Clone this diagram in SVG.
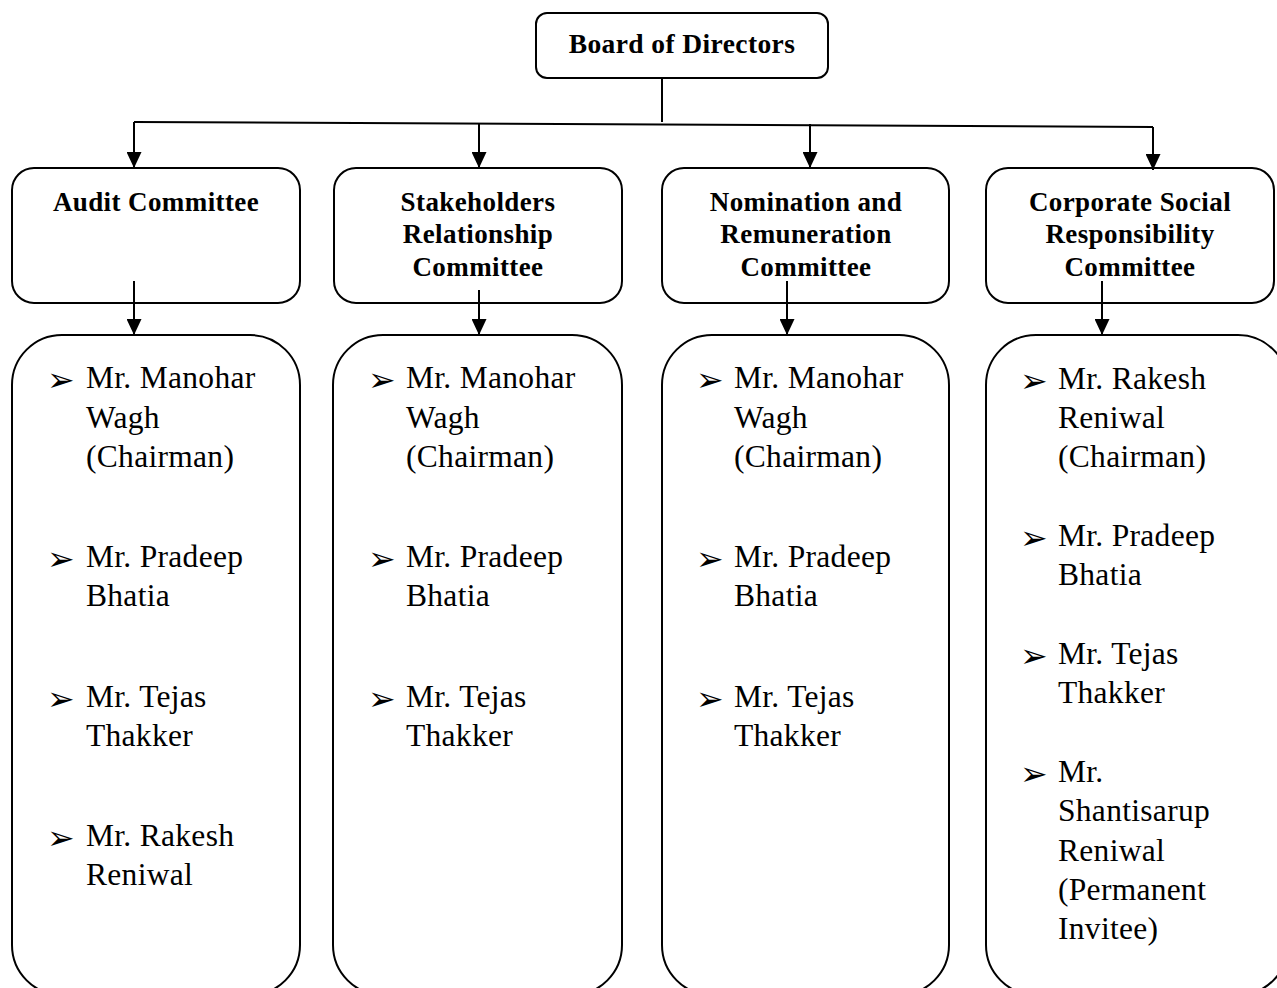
<svg xmlns="http://www.w3.org/2000/svg" width="1277" height="988" viewBox="0 0 1277 988">
<defs>
<marker id="ah" markerWidth="16" markerHeight="15" refX="16" refY="7.5" orient="auto" markerUnits="userSpaceOnUse" viewBox="0 0 16 15">
<path d="M0,0 L16,7.5 L0,15 Z" fill="#000"/>
</marker>
</defs>
<style>
.box{fill:#fff;stroke:#000;stroke-width:2}
.ln{fill:none;stroke:#000;stroke-width:2}
.ar{fill:none;stroke:#000;stroke-width:2;marker-end:url(#ah)}
.t{font-family:"Liberation Serif","Times New Roman",serif;font-weight:bold;font-size:27px;letter-spacing:0.4px;text-anchor:middle;fill:#000}
.m{font-family:"Liberation Serif","Times New Roman",serif;font-size:31.5px;letter-spacing:0.3px;fill:#000}
.b{font-family:"DejaVu Sans",sans-serif;font-size:33px;fill:#000}
</style>
<rect width="1277" height="988" fill="#fff"/>
<g id="board">
<rect class="box" x="536" y="13" width="292" height="65" rx="11"/>
<text class="t" x="682" y="53" style="font-size:27.5px">Board of Directors</text>
</g>
<g id="audit">
<rect class="box" x="12" y="168" width="288" height="135" rx="22"/>
<text class="t" x="156" y="211">Audit Committee</text>
</g>
<g id="stakeholders">
<rect class="box" x="334" y="168" width="288" height="135" rx="22"/>
<text class="t" x="478" y="211">Stakeholders</text>
<text class="t" x="478" y="243">Relationship</text>
<text class="t" x="478" y="276">Committee</text>
</g>
<g id="nomination">
<rect class="box" x="662" y="168" width="287" height="135" rx="22"/>
<text class="t" x="806" y="211">Nomination and</text>
<text class="t" x="806" y="243">Remuneration</text>
<text class="t" x="806" y="276">Committee</text>
</g>
<g id="csr">
<rect class="box" x="986" y="168" width="288" height="135" rx="22"/>
<text class="t" x="1130" y="211">Corporate Social</text>
<text class="t" x="1130" y="243">Responsibility</text>
<text class="t" x="1130" y="276">Committee</text>
</g>
<g id="audit-members">
<rect class="box" x="12" y="335" width="288" height="660" rx="50"/>
<text class="b" x="47" y="391">➢</text>
<text class="m" x="86" y="388">Mr. Manohar</text>
<text class="m" x="86" y="428">Wagh</text>
<text class="m" x="86" y="467">(Chairman)</text>
<text class="b" x="47" y="570">➢</text>
<text class="m" x="86" y="567">Mr. Pradeep</text>
<text class="m" x="86" y="606">Bhatia</text>
<text class="b" x="47" y="710">➢</text>
<text class="m" x="86" y="707">Mr. Tejas</text>
<text class="m" x="86" y="746">Thakker</text>
<text class="b" x="47" y="849">➢</text>
<text class="m" x="86" y="846">Mr. Rakesh</text>
<text class="m" x="86" y="885">Reniwal</text>
</g>
<g id="stakeholders-members">
<rect class="box" x="333" y="335" width="289" height="660" rx="50"/>
<text class="b" x="368" y="391">➢</text>
<text class="m" x="406" y="388">Mr. Manohar</text>
<text class="m" x="406" y="428">Wagh</text>
<text class="m" x="406" y="467">(Chairman)</text>
<text class="b" x="368" y="570">➢</text>
<text class="m" x="406" y="567">Mr. Pradeep</text>
<text class="m" x="406" y="606">Bhatia</text>
<text class="b" x="368" y="710">➢</text>
<text class="m" x="406" y="707">Mr. Tejas</text>
<text class="m" x="406" y="746">Thakker</text>
</g>
<g id="nomination-members">
<rect class="box" x="662" y="335" width="287" height="660" rx="50"/>
<text class="b" x="696" y="391">➢</text>
<text class="m" x="734" y="388">Mr. Manohar</text>
<text class="m" x="734" y="428">Wagh</text>
<text class="m" x="734" y="467">(Chairman)</text>
<text class="b" x="696" y="570">➢</text>
<text class="m" x="734" y="567">Mr. Pradeep</text>
<text class="m" x="734" y="606">Bhatia</text>
<text class="b" x="696" y="710">➢</text>
<text class="m" x="734" y="707">Mr. Tejas</text>
<text class="m" x="734" y="746">Thakker</text>
</g>
<g id="csr-members">
<rect class="box" x="986" y="335" width="302" height="660" rx="50"/>
<text class="b" x="1020" y="392">➢</text>
<text class="m" x="1058" y="389">Mr. Rakesh</text>
<text class="m" x="1058" y="428">Reniwal</text>
<text class="m" x="1058" y="467">(Chairman)</text>
<text class="b" x="1020" y="549">➢</text>
<text class="m" x="1058" y="546">Mr. Pradeep</text>
<text class="m" x="1058" y="585">Bhatia</text>
<text class="b" x="1020" y="667">➢</text>
<text class="m" x="1058" y="664">Mr. Tejas</text>
<text class="m" x="1058" y="703">Thakker</text>
<text class="b" x="1020" y="785">➢</text>
<text class="m" x="1058" y="782">Mr.</text>
<text class="m" x="1058" y="821">Shantisarup</text>
<text class="m" x="1058" y="861">Reniwal</text>
<text class="m" x="1058" y="900">(Permanent</text>
<text class="m" x="1058" y="939">Invitee)</text>
</g>
<g id="connectors">
<path class="ln" d="M662,78 V122"/>
<path class="ln" d="M134,122 L1153,127"/>
<path class="ar" d="M134,122 V168"/>
<path class="ar" d="M479,123 V168"/>
<path class="ar" d="M810,124 V168"/>
<path class="ar" d="M1153,127 V170"/>
<path class="ar" d="M134,281 V335"/>
<path class="ar" d="M479,290 V335"/>
<path class="ar" d="M787,281 V335"/>
<path class="ar" d="M1102,281 V335"/>
</g>
</svg>
